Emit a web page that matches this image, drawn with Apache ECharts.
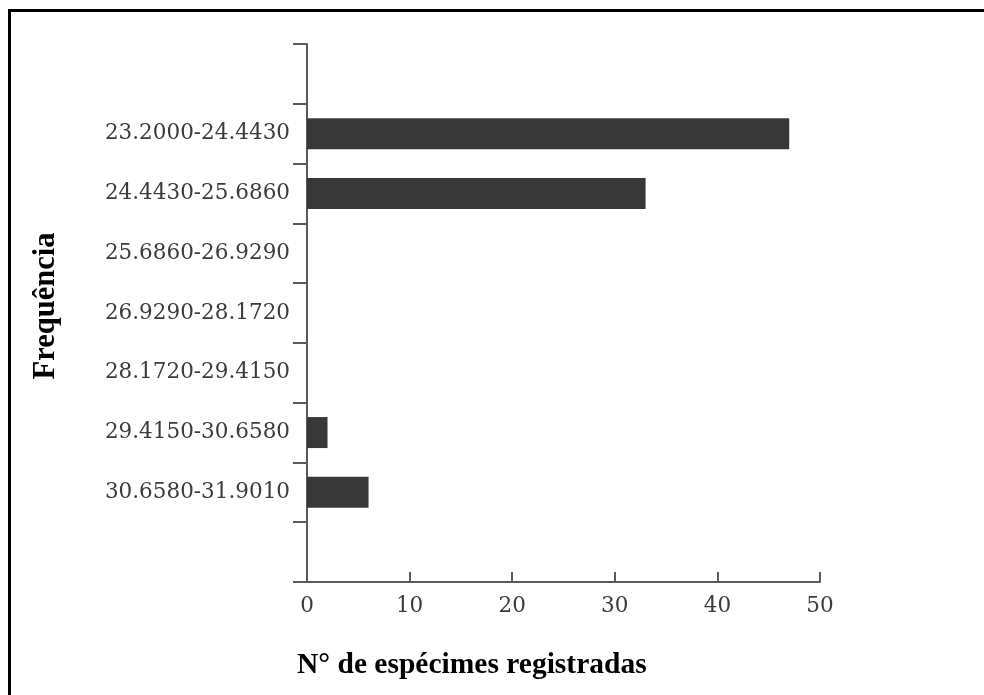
<!DOCTYPE html>
<html>
<head>
<meta charset="utf-8">
<script src="https://cdn.jsdelivr.net/npm/echarts@6/dist/echarts.min.js"></script>
<style>
html,body{margin:0;padding:0;background:#fff;overflow:hidden;width:984px;height:695px;position:relative;}
#frame{position:absolute;left:8px;top:9px;width:1100px;height:800px;border-left:3px solid #000;border-top:3px solid #000;box-sizing:border-box;}
#chart{position:absolute;left:0;top:0;width:984px;height:695px;}
</style>
</head>
<body>
<div id="frame"></div>
<div id="chart"></div>
<script>
const categories = ['23.2000-24.4430','24.4430-25.6860','25.6860-26.9290','26.9290-28.1720','28.1720-29.4150','29.4150-30.6580','30.6580-31.9010'];
const counts = [47, 33, 0, 0, 0, 2, 6];
const xTicks = [0, 10, 20, 30, 40, 50];
const xTitle = 'N° de espécimes registradas';
const yTitle = 'Frequência';

const axisCats = [''].concat(categories, ['']);
const axisData = ['-'].concat(counts, ['-']);

const chart = echarts.init(document.getElementById('chart'), null, {renderer:'canvas'});
const labelFont = {fontFamily:'DejaVu Serif', fontSize:21.5, color:'#3c3c3c'};
chart.setOption({
  animation:false,
  grid:{left:307, right:164, top:44, bottom:113, containLabel:false},
  xAxis:{
    type:'value', min:xTicks[0], max:xTicks[xTicks.length-1], interval:10,
    axisLine:{show:true, lineStyle:{color:'#5a5a5a', width:2}},
    axisTick:{show:true, inside:true, length:10, lineStyle:{color:'#5a5a5a', width:2}},
    axisLabel:Object.assign({margin:13}, labelFont),
    splitLine:{show:false}
  },
  yAxis:{
    type:'category', data:axisCats, inverse:true,
    axisLine:{show:true, lineStyle:{color:'#5a5a5a', width:2}},
    axisTick:{show:true, inside:false, length:14, lineStyle:{color:'#5a5a5a', width:2}},
    axisLabel:Object.assign({margin:17}, labelFont),
    splitLine:{show:false}
  },
  series:[{
    type:'bar', data:axisData, barWidth:31,
    itemStyle:{color:'#383838', borderWidth:0}
  }],
  graphic:[
    {type:'text', left:297, top:650, style:{text:xTitle, font:'bold 29.5px "Liberation Serif"', fill:'#000'}},
    {type:'text', x:46, y:306, rotation:Math.PI/2, style:{text:yTitle, font:'bold 30.5px "Liberation Serif"', fill:'#000', align:'center', verticalAlign:'middle'}}
  ]
});
</script>
</body>
</html>
